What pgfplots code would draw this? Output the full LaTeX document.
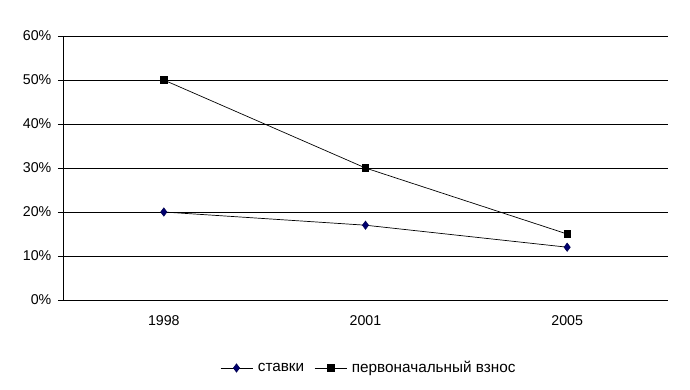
\documentclass[border=0pt]{standalone}
\usepackage{fontspec}
\setmainfont{Liberation Sans}
\usepackage{pgfplots}
\pgfplotsset{compat=1.18}
\begin{document}
\fontsize{13.3bp}{16bp}\selectfont
\begin{tikzpicture}[x=1bp,y=1bp]
\path[use as bounding box] (-63bp,-90bp) rectangle (627bp,300bp);
\begin{axis}[
  at={(0,0)}, anchor=south west,
  scale only axis, width=605bp, height=264bp,
  xmin=-0.5, xmax=2.5, ymin=0, ymax=60,
  axis x line*=bottom, axis y line*=left,
  axis line style={black, line width=0.9pt},
  xtick={0,1,2}, xticklabels={1998,2001,2005},
  x tick style={draw=none},
  extra x ticks={-0.5,0.5,1.5,2.5}, extra x tick labels={},
  extra x tick style={major tick length=5bp, tick align=outside, tick style={black, line width=0.8pt}, grid=none},
  ytick={0,10,...,60},
  yticklabel={\pgfmathprintnumber{\tick}\%},
  y tick style={black, line width=0.8pt},
  major tick length=5bp, tick align=outside,
  ymajorgrids, grid style={black, line width=0.8pt},
  /pgf/number format/assume math mode=true,
  tick label style={font=\fontsize{14.2bp}{16bp}\selectfont},
  xticklabel style={yshift=-6bp},
  yticklabel style={xshift=-2bp},
  legend style={at={(axis description cs:0.508,-0.2576)}, anchor=center, draw=none, legend columns=2,
    font=\fontsize{15.3bp}{17bp}\selectfont, /tikz/every even column/.append style={column sep=5bp},
    nodes={inner xsep=5bp}},
  legend image code/.code={
    \draw[#1, mark=none] (0bp,0bp) -- (32bp,0bp);
    \draw[#1, only marks] plot coordinates {(16bp,0bp)};
  },
  clip=false,
]
\addplot[black, line width=0.7pt, mark=diamond*, mark size=4.2bp, mark options={fill=black!20!blue!55!black, draw=black!70!blue, line width=0.5pt}]
  coordinates {(0,20) (1,17) (2,12)};
\addlegendentry{ставки}
\addplot[black, line width=0.7pt, mark=square*, mark size=3.3bp, mark options={fill=black, draw=black}]
  coordinates {(0,50) (1,30) (2,15)};
\addlegendentry{первоначальный взнос}
\end{axis}
\end{tikzpicture}
\end{document}
